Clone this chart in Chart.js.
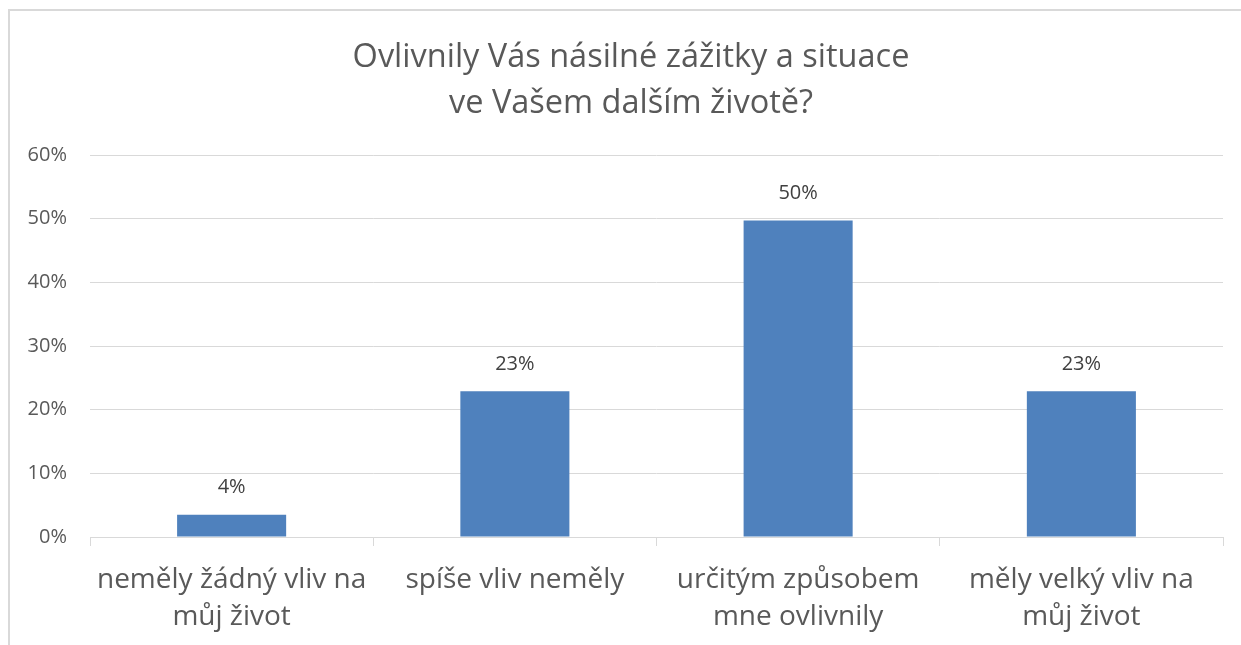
<!DOCTYPE html>
<html>
<head>
<meta charset="utf-8">
<script src="https://cdn.jsdelivr.net/npm/chart.js@4"></script>
<style>
  html, body { margin: 0; padding: 0; background: #fff; }
  #wrap { position: absolute; left: 0; top: 0; width: 1241px; height: 645px; }
  #frame { position: absolute; left: 8px; top: 9px; right: -4px; bottom: -4px; border-left: 2px solid #d9d9d9; border-top: 2px solid #d9d9d9; }
  canvas { position: absolute; left: 0; top: 0; }
</style>
</head>
<body>
<div id="wrap">
  <div id="frame"></div>
  <canvas id="chart" width="1241" height="645"></canvas>
</div>
<script>
const titleLines = ["Ovlivnily Vás násilné zážitky a situace", "ve Vašem dalším životě?"];
const categories = [
  ["neměly žádný vliv na", "můj život"],
  ["spíše vliv neměly"],
  ["určitým způsobem", "mne ovlivnily"],
  ["měly velký vliv na", "můj život"]
];
const values = [3.5, 22.9, 49.7, 22.9];
const valueLabels = ["4%", "23%", "50%", "23%"];
const yTicks = [0, 10, 20, 30, 40, 50, 60];

const textColor = "#595959";
const fontFamily = "'Open Sans', sans-serif";

// value labels above each bar
const barLabels = {
  id: "barLabels",
  afterDatasetsDraw(chart) {
    const ctx = chart.ctx;
    const meta = chart.getDatasetMeta(0);
    ctx.save();
    ctx.fillStyle = "#404040";
    ctx.font = "20px " + fontFamily;
    ctx.textAlign = "center";
    ctx.textBaseline = "middle";
    meta.data.forEach((bar, i) => {
      ctx.fillText(valueLabels[i], bar.x, bar.y - 27);
    });
    ctx.restore();
  }
};

// title is centred on the whole frame, not on the canvas
const shiftTitle = {
  id: "shiftTitle",
  afterLayout(chart) {
    if (chart.titleBlock) chart.titleBlock.left = 39;
  }
};

new Chart(document.getElementById("chart").getContext("2d"), {
  type: "bar",
  data: {
    labels: categories,
    datasets: [{
      data: values,
      backgroundColor: "#4f81bd",
      borderColor: "#4f81bd",
      borderWidth: 0,
      categoryPercentage: 1,
      barPercentage: 0.385
    }]
  },
  options: {
    responsive: false,
    animation: false,
    layout: { padding: { left: 0, right: 18, top: 0, bottom: 0 } },
    plugins: {
      legend: { display: false },
      tooltip: { enabled: false },
      title: {
        display: true,
        text: titleLines,
        color: textColor,
        font: { family: fontFamily, size: 32.5, weight: "normal", lineHeight: 1.4 },
        padding: { top: 35, bottom: 29 }
      }
    },
    scales: {
      y: {
        min: 0,
        max: 60,
        afterBuildTicks(scale) {
          scale.ticks = yTicks.map(v => ({ value: v }));
        },
        afterFit(scale) { scale.width = 90; },
        border: { display: false },
        grid: { color: "#d9d9d9", lineWidth: 1, drawTicks: false },
        ticks: {
          color: textColor,
          padding: 23,
          font: { family: fontFamily, size: 20 },
          callback: v => v + "%"
        }
      },
      x: {
        afterFit(scale) { scale.height = 108; },
        border: { display: true, color: "#d9d9d9", width: 1 },
        grid: { offset: true, drawOnChartArea: false, drawTicks: true, tickLength: 9, color: "#d9d9d9" },
        ticks: {
          color: textColor,
          padding: 16,
          maxRotation: 0,
          autoSkip: false,
          font: { family: fontFamily, size: 28, lineHeight: 1.32 }
        }
      }
    }
  },
  plugins: [barLabels, shiftTitle]
});
</script>
</body>
</html>
